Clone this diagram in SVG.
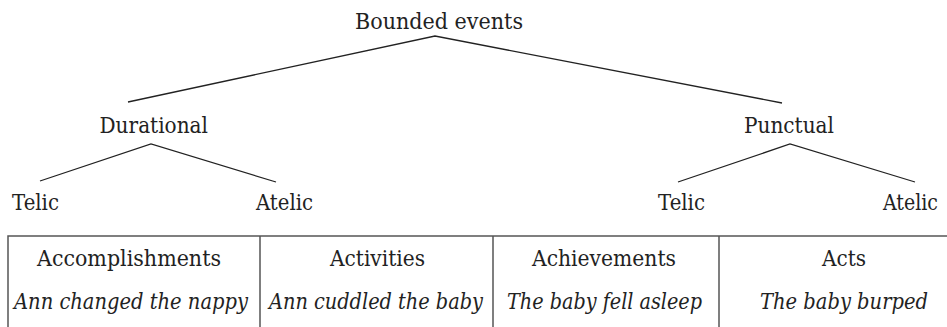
<svg xmlns="http://www.w3.org/2000/svg" width="947" height="327" viewBox="0 0 947 327">
<style>
text{font-family:"DejaVu Serif","Liberation Serif",serif;font-size:21.5px;fill:#222}
.it{font-style:italic}
.edge{stroke:#222;stroke-width:1.3;fill:none}
.tb{stroke:#555;stroke-width:1.5;fill:none}
</style>
<rect width="947" height="327" fill="#fff"/>
<g id="connectors">
<polyline class="edge" points="128,102 435,36 782,103"/>
<polyline class="edge" points="40,181 151,144 276,182"/>
<polyline class="edge" points="678,182 790,144 915,182"/>
</g>
<g id="bounded"><text x="355" y="28.5" textLength="168" lengthAdjust="spacingAndGlyphs">Bounded events</text></g>
<g id="durational"><text x="99.5" y="132.5" textLength="108.5" lengthAdjust="spacingAndGlyphs">Durational</text></g>
<g id="punctual"><text x="744" y="132.5" textLength="90" lengthAdjust="spacingAndGlyphs">Punctual</text></g>
<g id="telic1"><text x="12" y="209.5" textLength="47" lengthAdjust="spacingAndGlyphs">Telic</text></g>
<g id="atelic1"><text x="256" y="209.5" textLength="57" lengthAdjust="spacingAndGlyphs">Atelic</text></g>
<g id="telic2"><text x="658" y="209.5" textLength="47" lengthAdjust="spacingAndGlyphs">Telic</text></g>
<g id="atelic2"><text x="883" y="209.5" textLength="55" lengthAdjust="spacingAndGlyphs">Atelic</text></g>
<g id="table">
<path class="tb" d="M8,327 V236 H947 M260,236 V327 M493,236 V327 M719,236 V327"/>
<text x="37" y="265.5" textLength="184" lengthAdjust="spacingAndGlyphs">Accomplishments</text>
<text x="330" y="265.5" textLength="95" lengthAdjust="spacingAndGlyphs">Activities</text>
<text x="532" y="265.5" textLength="144" lengthAdjust="spacingAndGlyphs">Achievements</text>
<text x="822" y="265.5" textLength="44" lengthAdjust="spacingAndGlyphs">Acts</text>
<text class="it" x="14" y="308.5" textLength="234" lengthAdjust="spacingAndGlyphs">Ann changed the nappy</text>
<text class="it" x="269" y="308.5" textLength="214" lengthAdjust="spacingAndGlyphs">Ann cuddled the baby</text>
<text class="it" x="507" y="308.5" textLength="195" lengthAdjust="spacingAndGlyphs">The baby fell asleep</text>
<text class="it" x="760" y="308.5" textLength="168" lengthAdjust="spacingAndGlyphs">The baby burped</text>
</g>
</svg>
